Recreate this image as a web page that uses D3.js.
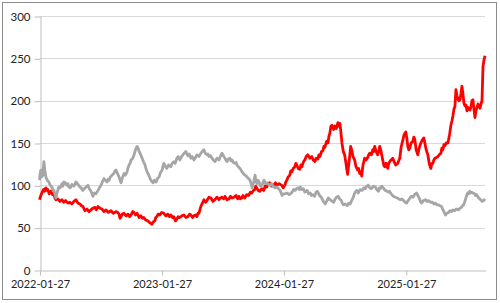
<!DOCTYPE html>
<html><head><meta charset="utf-8">
<script src="https://cdn.jsdelivr.net/npm/d3@7"></script>
<style>body{margin:0;background:#fff}svg{display:block}</style>
</head><body>
<svg id="c" width="500" height="303"></svg>
<script>
const yTicks = [0, 50, 100, 150, 200, 250, 300];
const xTickLabels = ["2022-01-27", "2023-01-27", "2024-01-27", "2025-01-27"];
const xStart = "2022-01-27", xEnd = "2025-09-21";

const redDates = ["2022-01-27","2022-01-31","2022-02-03","2022-02-08","2022-02-11","2022-02-15","2022-02-18","2022-02-21","2022-02-25","2022-03-02","2022-03-07","2022-03-11","2022-03-14","2022-03-17","2022-03-23","2022-03-29","2022-04-04","2022-04-10","2022-04-15","2022-04-22","2022-04-28","2022-05-04","2022-05-10","2022-05-16","2022-05-22","2022-05-28","2022-06-01","2022-06-06","2022-06-12","2022-06-18","2022-06-24","2022-06-30","2022-07-06","2022-07-12","2022-07-16","2022-07-21","2022-07-27","2022-08-02","2022-08-08","2022-08-14","2022-08-21","2022-08-29","2022-09-05","2022-09-13","2022-09-18","2022-09-22","2022-09-25","2022-09-28","2022-10-02","2022-10-07","2022-10-13","2022-10-19","2022-10-24","2022-10-28","2022-11-02","2022-11-06","2022-11-10","2022-11-15","2022-11-21","2022-11-26","2022-12-01","2022-12-05","2022-12-11","2022-12-17","2022-12-23","2022-12-29","2023-01-03","2023-01-07","2023-01-10","2023-01-13","2023-01-17","2023-01-22","2023-01-28","2023-02-03","2023-02-09","2023-02-15","2023-02-20","2023-02-24","2023-03-01","2023-03-05","2023-03-10","2023-03-14","2023-03-18","2023-03-23","2023-03-29","2023-04-04","2023-04-10","2023-04-16","2023-04-21","2023-04-25","2023-04-30","2023-05-04","2023-05-09","2023-05-13","2023-05-16","2023-05-19","2023-05-24","2023-05-28","2023-05-31","2023-06-03","2023-06-08","2023-06-12","2023-06-18","2023-06-24","2023-06-30","2023-07-06","2023-07-12","2023-07-18","2023-07-22","2023-07-27","2023-08-01","2023-08-05","2023-08-11","2023-08-17","2023-08-21","2023-08-26","2023-09-01","2023-09-07","2023-09-12","2023-09-16","2023-09-20","2023-09-24","2023-09-28","2023-10-03","2023-10-09","2023-10-15","2023-10-20","2023-10-24","2023-10-29","2023-11-02","2023-11-05","2023-11-08","2023-11-12","2023-11-17","2023-11-23","2023-11-29","2023-12-03","2023-12-08","2023-12-12","2023-12-17","2023-12-22","2023-12-29","2024-01-03","2024-01-07","2024-01-14","2024-01-22","2024-01-26","2024-01-31","2024-02-03","2024-02-06","2024-02-10","2024-02-15","2024-02-18","2024-02-21","2024-02-25","2024-03-01","2024-03-04","2024-03-07","2024-03-11","2024-03-16","2024-03-19","2024-03-22","2024-03-27","2024-03-31","2024-04-04","2024-04-09","2024-04-15","2024-04-21","2024-04-25","2024-04-30","2024-05-04","2024-05-09","2024-05-12","2024-05-15","2024-05-20","2024-05-24","2024-05-27","2024-05-30","2024-06-04","2024-06-08","2024-06-11","2024-06-14","2024-06-17","2024-06-20","2024-06-25","2024-06-29","2024-07-03","2024-07-08","2024-07-11","2024-07-14","2024-07-17","2024-07-20","2024-07-24","2024-07-28","2024-08-01","2024-08-03","2024-08-06","2024-08-09","2024-08-12","2024-08-15","2024-08-18","2024-08-22","2024-08-27","2024-08-31","2024-09-05","2024-09-08","2024-09-11","2024-09-14","2024-09-17","2024-09-21","2024-09-26","2024-09-30","2024-10-05","2024-10-08","2024-10-11","2024-10-16","2024-10-20","2024-10-23","2024-10-26","2024-10-30","2024-11-04","2024-11-07","2024-11-10","2024-11-14","2024-11-19","2024-11-22","2024-11-25","2024-11-29","2024-12-04","2024-12-07","2024-12-10","2024-12-14","2024-12-19","2024-12-23","2024-12-28","2025-01-03","2025-01-09","2025-01-13","2025-01-18","2025-01-22","2025-01-27","2025-01-30","2025-02-02","2025-02-05","2025-02-08","2025-02-12","2025-02-17","2025-02-20","2025-02-23","2025-02-27","2025-03-04","2025-03-08","2025-03-13","2025-03-18","2025-03-22","2025-03-25","2025-03-29","2025-04-03","2025-04-07","2025-04-10","2025-04-12","2025-04-15","2025-04-18","2025-04-21","2025-04-24","2025-04-29","2025-05-03","2025-05-07","2025-05-12","2025-05-15","2025-05-18","2025-05-21","2025-05-24","2025-05-28","2025-06-02","2025-06-07","2025-06-11","2025-06-14","2025-06-17","2025-06-20","2025-06-23","2025-06-26","2025-06-29","2025-07-02","2025-07-05","2025-07-08","2025-07-11","2025-07-14","2025-07-17","2025-07-20","2025-07-23","2025-07-26","2025-07-29","2025-08-01","2025-08-04","2025-08-07","2025-08-10","2025-08-13","2025-08-16","2025-08-19","2025-08-22","2025-08-25","2025-08-28","2025-08-31","2025-09-03","2025-09-06","2025-09-09","2025-09-12","2025-09-15","2025-09-18","2025-09-21"];
const redValues = [83,88,91,95,93,97,94,95,90,93,89,90,85,83,84,81,83,80,82,79,80,78,81,83,79,78,76,75,70,72,69,71,73,74,71,75,73,72,69,71,68,70,67,69,68,66,61,63,66,67,64,66,63,65,69,68,65,67,62,64,61,62,59,58,56,54,57,58,62,63,66,65,68,67,64,66,63,65,62,63,58,60,63,62,64,65,62,63,66,65,62,64,65,63,67,67,74,78,80,83,80,82,86,85,81,83,86,83,85,86,84,87,83,84,87,85,86,88,84,87,84,85,88,85,89,88,92,91,94,95,99,97,94,93,96,94,99,98,102,103,99,100,103,100,102,100,97,100,104,106,110,112,117,116,120,122,126,124,120,119,124,122,128,130,134,136,132,134,130,128,132,131,136,134,140,141,146,145,152,150,158,162,170,171,166,170,167,174,170,173,162,150,140,136,126,120,113,124,134,146,142,134,130,122,118,120,114,116,111,124,132,130,133,136,138,136,142,140,146,140,136,140,146,140,130,124,122,126,120,126,128,130,132,128,124,126,132,145,153,160,163,156,146,142,144,150,152,157,154,142,136,144,150,154,156,150,142,136,126,122,120,126,126,130,132,133,134,136,138,144,142,148,147,150,150,160,171,176,182,190,193,213,206,202,200,201,208,217,208,197,194,195,188,192,190,189,193,200,201,190,180,188,192,196,194,191,196,200,240,248,253];

const grayDates = ["2022-01-27","2022-01-29","2022-01-31","2022-02-03","2022-02-06","2022-02-09","2022-02-12","2022-02-15","2022-02-19","2022-02-24","2022-02-28","2022-03-05","2022-03-08","2022-03-11","2022-03-14","2022-03-17","2022-03-21","2022-03-26","2022-03-30","2022-04-04","2022-04-07","2022-04-10","2022-04-14","2022-04-19","2022-04-22","2022-04-25","2022-04-29","2022-05-04","2022-05-10","2022-05-16","2022-05-22","2022-05-28","2022-06-01","2022-06-06","2022-06-10","2022-06-15","2022-06-18","2022-06-21","2022-06-25","2022-06-30","2022-07-03","2022-07-06","2022-07-10","2022-07-15","2022-07-18","2022-07-21","2022-07-25","2022-07-30","2022-08-03","2022-08-08","2022-08-12","2022-08-17","2022-08-20","2022-08-23","2022-08-27","2022-09-01","2022-09-06","2022-09-10","2022-09-13","2022-09-17","2022-09-22","2022-09-25","2022-09-28","2022-10-02","2022-10-07","2022-10-11","2022-10-16","2022-10-19","2022-10-22","2022-10-25","2022-10-28","2022-11-02","2022-11-06","2022-11-10","2022-11-15","2022-11-18","2022-11-21","2022-11-25","2022-11-30","2022-12-04","2022-12-09","2022-12-12","2022-12-15","2022-12-20","2022-12-24","2022-12-28","2023-01-02","2023-01-06","2023-01-11","2023-01-15","2023-01-20","2023-01-24","2023-01-29","2023-01-31","2023-02-03","2023-02-08","2023-02-12","2023-02-17","2023-02-24","2023-02-28","2023-03-05","2023-03-09","2023-03-14","2023-03-18","2023-03-23","2023-03-28","2023-04-01","2023-04-05","2023-04-10","2023-04-13","2023-04-16","2023-04-20","2023-04-25","2023-04-29","2023-05-04","2023-05-09","2023-05-13","2023-05-19","2023-05-25","2023-05-29","2023-06-03","2023-06-07","2023-06-12","2023-06-15","2023-06-18","2023-06-23","2023-06-27","2023-07-01","2023-07-06","2023-07-12","2023-07-18","2023-07-22","2023-07-27","2023-07-31","2023-08-05","2023-08-08","2023-08-11","2023-08-15","2023-08-20","2023-08-23","2023-08-26","2023-08-30","2023-09-04","2023-09-07","2023-09-10","2023-09-14","2023-09-19","2023-09-22","2023-09-25","2023-09-29","2023-10-04","2023-10-07","2023-10-10","2023-10-14","2023-10-19","2023-10-22","2023-10-25","2023-10-28","2023-10-31","2023-11-03","2023-11-06","2023-11-09","2023-11-12","2023-11-15","2023-11-19","2023-11-24","2023-11-27","2023-11-30","2023-12-04","2023-12-09","2023-12-13","2023-12-18","2023-12-22","2023-12-27","2024-01-02","2024-01-08","2024-01-12","2024-01-17","2024-01-20","2024-01-23","2024-01-27","2024-02-01","2024-02-07","2024-02-13","2024-02-17","2024-02-22","2024-02-26","2024-03-02","2024-03-06","2024-03-11","2024-03-14","2024-03-17","2024-03-21","2024-03-26","2024-03-31","2024-04-07","2024-04-11","2024-04-16","2024-04-20","2024-04-25","2024-04-29","2024-05-04","2024-05-07","2024-05-10","2024-05-14","2024-05-19","2024-05-24","2024-05-31","2024-06-04","2024-06-09","2024-06-14","2024-06-21","2024-06-25","2024-06-30","2024-07-04","2024-07-09","2024-07-13","2024-07-18","2024-07-21","2024-07-24","2024-07-29","2024-08-05","2024-08-09","2024-08-14","2024-08-18","2024-08-23","2024-08-26","2024-08-29","2024-09-02","2024-09-07","2024-09-12","2024-09-19","2024-09-23","2024-09-28","2024-10-02","2024-10-07","2024-10-11","2024-10-16","2024-10-22","2024-10-28","2024-11-01","2024-11-06","2024-11-09","2024-11-12","2024-11-16","2024-11-21","2024-11-24","2024-11-27","2024-12-02","2024-12-06","2024-12-09","2024-12-12","2024-12-16","2024-12-21","2024-12-27","2025-01-02","2025-01-06","2025-01-11","2025-01-15","2025-01-20","2025-01-25","2025-01-29","2025-02-03","2025-02-07","2025-02-10","2025-02-13","2025-02-18","2025-02-22","2025-02-25","2025-02-28","2025-03-04","2025-03-09","2025-03-12","2025-03-15","2025-03-21","2025-03-27","2025-03-31","2025-04-05","2025-04-11","2025-04-17","2025-04-21","2025-04-26","2025-04-30","2025-05-05","2025-05-09","2025-05-14","2025-05-17","2025-05-20","2025-05-23","2025-05-26","2025-05-30","2025-06-04","2025-06-08","2025-06-13","2025-06-17","2025-06-22","2025-06-27","2025-07-04","2025-07-08","2025-07-13","2025-07-16","2025-07-19","2025-07-22","2025-07-25","2025-07-28","2025-07-31","2025-08-03","2025-08-06","2025-08-09","2025-08-12","2025-08-16","2025-08-21","2025-08-24","2025-08-27","2025-08-30","2025-09-02","2025-09-05","2025-09-08","2025-09-12","2025-09-17","2025-09-21"];
const grayValues = [106,114,118,110,112,128,118,110,106,104,100,98,95,94,90,85,92,98,97,102,99,104,103,100,102,98,97,101,99,104,101,98,97,94,96,98,99,100,96,93,90,87,91,90,92,94,97,100,104,108,106,104,107,106,110,112,114,117,118,114,110,106,103,109,114,112,116,121,124,126,130,132,136,142,146,144,140,137,132,128,124,119,116,112,108,105,103,106,104,108,110,115,118,122,126,122,120,124,122,126,128,126,132,134,130,134,136,138,140,137,135,137,132,134,130,133,136,134,138,140,142,138,136,137,134,135,132,130,128,132,130,134,138,135,132,130,128,131,132,129,130,127,126,127,124,122,120,118,116,114,112,111,110,108,106,102,97,101,106,112,104,102,106,104,99,100,104,106,102,103,101,100,102,99,97,98,96,94,91,88,90,90,91,89,90,92,95,94,96,97,95,98,95,96,92,94,90,91,88,89,87,92,93,91,88,86,82,78,81,85,83,81,80,84,86,87,84,82,79,77,78,76,79,78,82,86,90,92,94,91,95,94,97,96,99,100,97,96,99,98,95,93,97,96,99,97,95,94,93,92,93,91,89,87,86,85,84,83,84,82,80,79,82,84,86,87,86,89,90,91,88,84,81,79,82,83,81,82,80,80,78,79,77,77,76,75,72,70,67,65,67,68,70,69,71,70,72,71,73,74,76,77,80,84,88,91,90,93,91,92,91,90,88,89,87,85,84,83,81,82,84];

const parse = d3.timeParse("%Y-%m-%d");
const svg = d3.select("#c");
const m = {l: 39.5, r: 485, t: 16, b: 270};

const x = d3.scaleTime().domain([parse(xStart), parse(xEnd)]).range([m.l, m.r]);
const y = d3.scaleLinear().domain([0, 300]).range([m.b, m.t]);

// outer border
svg.append("rect").attr("x", 2.5).attr("y", 2.5).attr("width", 494).attr("height", 297)
  .attr("fill", "#fff").attr("stroke", "#8c8c8c");

// gridlines
svg.append("g").selectAll("line").data(yTicks.filter(v => v > 0)).join("line")
  .attr("x1", m.l).attr("x2", m.r)
  .attr("y1", d => Math.round(y(d)) + 0.5).attr("y2", d => Math.round(y(d)) + 0.5)
  .attr("stroke", "#d9d9d9").attr("stroke-width", 1);

const font = "Lato, 'Open Sans', sans-serif";

// y axis
const yAxis = d3.axisLeft(y).tickValues(yTicks).tickSize(6).tickPadding(4).tickSizeOuter(0);
const gy = svg.append("g").attr("transform", `translate(${Math.round(m.l) + 0.5},0.5)`).call(yAxis);
gy.select(".domain").attr("stroke", "#bfbfbf");
gy.selectAll(".tick line").attr("stroke", "#bfbfbf");
gy.selectAll("text").attr("font-family", font).attr("font-size", 11.5).attr("fill", "#222");

// x axis
const xAxis = d3.axisBottom(x).tickValues(xTickLabels.map(parse)).tickFormat(d3.timeFormat("%Y-%m-%d"))
  .tickSize(5).tickPadding(5).tickSizeOuter(0);
const gx = svg.append("g").attr("transform", `translate(0.5,${Math.round(m.b) + 0.5})`).call(xAxis);
gx.select(".domain").attr("stroke", "#bfbfbf");
gx.selectAll(".tick line").attr("stroke", "#bfbfbf");
gx.selectAll("text").attr("font-family", font).attr("font-size", 11).attr("fill", "#222");

const line = d3.line().x(d => x(d[0])).y(d => y(d[1])).curve(d3.curveLinear);

const red = redDates.map((d, i) => [parse(d), redValues[i]]);
const gray = grayDates.map((d, i) => [parse(d), grayValues[i]]);

svg.append("path").datum(red).attr("d", line).attr("fill", "none")
  .attr("stroke", "#ff0000").attr("stroke-width", 2.8).attr("stroke-linejoin", "round");
svg.append("path").datum(gray).attr("d", line).attr("fill", "none")
  .attr("stroke", "#a6a6a6").attr("stroke-width", 2.8).attr("stroke-linejoin", "round");
</script>
</body></html>
